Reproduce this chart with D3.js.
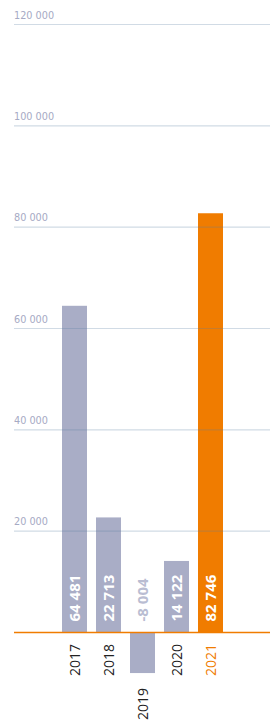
<!DOCTYPE html>
<html>
<head>
<meta charset="utf-8">
<script src="https://cdn.jsdelivr.net/npm/d3@7"></script>
<style>
  body { margin: 0; background: #fff; }
  #chart { width: 272px; height: 720px; }
</style>
</head>
<body>
<div id="chart"></div>
<script>
// chart data
const years = ["2017", "2018", "2019", "2020", "2021"];
const values = [64481, 22713, -8004, 14122, 82746];
const tickValues = [20000, 40000, 60000, 80000, 100000, 120000];
const highlightYear = "2021";

document.addEventListener("DOMContentLoaded", function() {
    const width = 272, height = 720;
    const fmt = d3.formatLocale({decimal: ",", thousands: " ", grouping: [3], currency: ["", ""], minus: "-"}).format(",d");

    const svg = d3.select("#chart").append("svg")
        .attr("width", width)
        .attr("height", height);

    const y = d3.scaleLinear().domain([0, 120000]).range([632.5, 24.5]);
    const x = d3.scaleBand().domain(years).range([57.5, 227.5])
        .paddingInner(9 / 34).paddingOuter(4.5 / 34);

    const grey = "#a9adc6", orange = "#f07c00";
    const rows = years.map((yr, i) => ({yr, v: values[i]}));

    // bars
    svg.selectAll("rect.bar")
        .data(rows)
        .join("rect")
        .attr("class", "bar")
        .attr("x", d => x(d.yr))
        .attr("width", x.bandwidth())
        .attr("y", d => y(Math.max(0, d.v)))
        .attr("height", d => Math.abs(y(d.v) - y(0)))
        .attr("fill", d => d.yr === highlightYear ? orange : grey);

    // grid lines on top of the bars (semi transparent)
    const grid = svg.append("g");
    grid.selectAll("line")
        .data(tickValues)
        .join("line")
        .attr("x1", 14).attr("x2", 270)
        .attr("y1", d => y(d)).attr("y2", d => y(d))
        .attr("stroke", "rgba(90,125,160,0.28)")
        .attr("stroke-width", 1.2);

    grid.selectAll("text")
        .data(tickValues)
        .join("text")
        .attr("x", 14)
        .attr("y", d => y(d) - 6)
        .attr("font-family", "'DejaVu Sans', sans-serif")
        .attr("font-size", 9.7)
        .attr("fill", "#a6aac4")
        .text(d => fmt(d));

    // zero line
    svg.append("line")
        .attr("x1", 14).attr("x2", 270)
        .attr("y1", y(0)).attr("y2", y(0))
        .attr("stroke", orange)
        .attr("stroke-width", 1.5);

    // value labels inside bars
    svg.selectAll("text.val")
        .data(rows)
        .join("text")
        .attr("class", "val")
        .attr("transform", d => `translate(${x(d.yr) + x.bandwidth() / 2 + 5.5},${y(0) - 11}) rotate(-90)`)
        .attr("font-family", "'Open Sans', sans-serif")
        .attr("font-weight", "bold")
        .attr("font-size", 15)
        .attr("fill", d => d.v < 0 ? "#b9bdd2" : "#fff")
        .text(d => fmt(d.v));

    // year labels
    svg.selectAll("text.year")
        .data(rows)
        .join("text")
        .attr("class", "year")
        .attr("transform", d => `translate(${x(d.yr) + x.bandwidth() / 2 + 5.5},${Math.max(y(0), y(d.v)) + (d.v < 0 ? 15 : 11.5)}) rotate(-90)`)
        .attr("text-anchor", "end")
        .attr("font-family", "'Open Sans', sans-serif")
        .attr("font-size", 14)
        .attr("fill", d => d.yr === highlightYear ? orange : "#222")
        .text(d => d.yr);
});
</script>
</body>
</html>
